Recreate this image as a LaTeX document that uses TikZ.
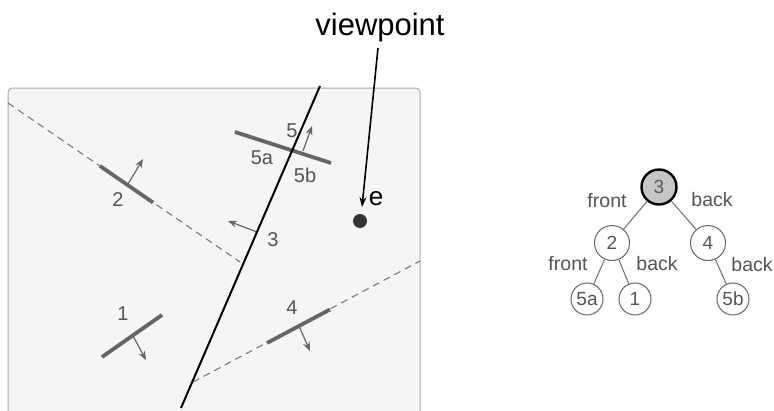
\documentclass[tikz,border=0pt]{standalone}
\usepackage{fontspec}
\setmainfont{Liberation Sans}
\usetikzlibrary{arrows.meta}
\definecolor{segc}{HTML}{666666}
\definecolor{dashc}{HTML}{7A7A7A}
\definecolor{labc}{HTML}{555555}
\definecolor{panelc}{HTML}{F5F5F5}
\tikzset{
  seg/.style={draw=segc, line width=3.8pt},
  normal/.style={draw=segc, line width=1.2pt, -{Stealth[length=9pt,width=7pt]}},
  splitline/.style={draw=dashc, line width=1.1pt, dash pattern=on 7pt off 5pt},
  lab/.style={text=labc, font=\fontsize{20}{20}\selectfont, inner sep=0pt},
  tnode/.style={circle, draw=segc, line width=1pt, fill=white, minimum size=32pt, inner sep=0pt, text=labc, font=\fontsize{19}{19}\selectfont},
  tedge/.style={draw=dashc, line width=1.1pt},
  elab/.style={text=labc, font=\fontsize{19.5}{19.5}\selectfont, inner sep=0pt},
}
\begin{document}
\begin{tikzpicture}[x=1pt,y=-1pt]
\useasboundingbox (0,0) rectangle (774,410);
\fill[white] (0,0) rectangle (774,410);
% panel
\draw[draw=gray!65, fill=panelc, line width=1pt, rounded corners=4pt] (8,88) rectangle (420,430);
% dashed split lines
\coordinate (d1a) at (8,103);
\coordinate (d1b) at (240,262);
\coordinate (d2a) at (193,382);
\coordinate (d2b) at (420,261);
\draw[splitline] (d1a) -- (d1b);
\draw[splitline] (d2a) -- (d2b);
% segment 2
\coordinate (s2a) at (100,166);
\coordinate (s2b) at (153,202.5);
\draw[seg] (s2a) -- (s2b);
\coordinate (s2m) at (128,184);
\coordinate (s2n) at (143,159);
\draw[normal] (s2m) -- (s2n);
\node[lab] (l2) at (118,200) {2};
% segment 1
\coordinate (s1a) at (102,357);
\coordinate (s1b) at (162,315);
\draw[seg] (s1a) -- (s1b);
\coordinate (s1m) at (133,336);
\coordinate (s1n) at (146,360);
\draw[normal] (s1m) -- (s1n);
\node[lab] (l1) at (123,314) {1};
% segment 4
\coordinate (s4a) at (267,343);
\coordinate (s4b) at (330,309.5);
\draw[seg] (s4a) -- (s4b);
\coordinate (s4m) at (299,326);
\coordinate (s4n) at (310,351);
\draw[normal] (s4m) -- (s4n);
\node[lab] (l4) at (292,308) {4};
% segment 5
\coordinate (s5a) at (235,132);
\coordinate (s5b) at (331,163);
\draw[seg] (s5a) -- (s5b);
\coordinate (s5m) at (303,151);
\coordinate (s5n) at (312,126);
\draw[normal] (s5m) -- (s5n);
\node[lab] (l5) at (292,131) {5};
\node[lab] (l5a) at (262,158) {5a};
\node[lab] (l5b) at (305,175) {5b};
% segment 3 (on the black line)
\coordinate (s3m) at (257,232);
\coordinate (s3n) at (228,221);
\draw[normal] (s3m) -- (s3n);
\node[lab] (l3) at (273,240) {3};
% black splitting line of 3
\coordinate (ba) at (320,86);
\coordinate (bb) at (181,408);
\draw[black, line width=2pt] (ba) -- (bb);
% viewpoint
\node[font=\fontsize{31}{31}\selectfont, inner sep=0pt] (vp) at (380,27) {viewpoint};
\coordinate (vpa) at (378,48);
\coordinate (vpb) at (362,207);
\draw[black, line width=1.6pt, -{Stealth[length=10pt,width=7pt]}] (vpa) -- (vpb);
\node[circle, fill=black!80, inner sep=0pt, minimum size=14pt] (eye) at (360,221) {};
\node[font=\fontsize{26}{26}\selectfont, inner sep=0pt] (el) at (376,199) {e};
% tree
\node[tnode, draw=black, line width=2.4pt, fill=gray!45, text=gray!70!black, minimum size=35pt] (t3) at (659,187) {3};
\node[tnode, minimum size=35pt] (t2) at (612,243) {2};
\node[tnode, minimum size=35pt] (t4) at (708,243) {4};
\node[tnode] (t5a) at (587,299) {5a};
\node[tnode] (t1) at (635,299) {1};
\node[tnode] (t5b) at (733,299) {5b};
\draw[tedge] (t3) -- (t2);
\draw[tedge] (t3) -- (t4);
\draw[tedge] (t2) -- (t5a);
\draw[tedge] (t2) -- (t1);
\draw[tedge] (t4) -- (t5b);
\node[elab] (ef1) at (607,201) {front};
\node[elab] (eb1) at (712,200) {back};
\node[elab] (ef2) at (568,264) {front};
\node[elab] (eb2) at (657,264) {back};
\node[elab] (eb3) at (752,265) {back};
\end{tikzpicture}
\end{document}
